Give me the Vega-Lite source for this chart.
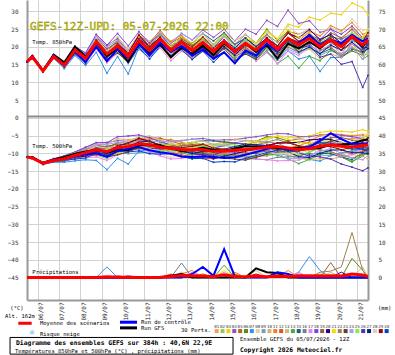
{
"$schema":"https://vega.github.io/schema/vega-lite/v6.json",
"width":341,"height":300,
"autosize":{"type":"none"},
"padding":{"left":27,"top":0,"right":27,"bottom":55},
"background":"#ffffff",
"config":{"view":{"stroke":null},"text":{"font":"DejaVu Sans Mono"},"axis":{"labelFont":"DejaVu Sans Mono"}},
"datasets":{
"sw":[{"m":1},{"m":2},{"m":3},{"m":4},{"m":5},{"m":6},{"m":7},{"m":8},{"m":9},{"m":10},{"m":11},{"m":12},{"m":13},{"m":14},{"m":15},{"m":16},{"m":17},{"m":18},{"m":19},{"m":20},{"m":21},{"m":22},{"m":23},{"m":24},{"m":25},{"m":26},{"m":27},{"m":28},{"m":29},{"m":30}],
"sp":[
{"k":"avg","t":0,"a":15.8,"b":-11.0,"r":0},{"k":"avg","t":6,"a":17.2,"b":-11.3,"r":0},{"k":"avg","t":18,"a":13.2,"b":-12.8,"r":0},{"k":"avg","t":30,"a":17.3,"b":-12.0,"r":0},{"k":"avg","t":42,"a":14.9,"b":-11.5,"r":0},{"k":"avg","t":54,"a":19.1,"b":-10.6,"r":0},{"k":"avg","t":66,"a":16.8,"b":-9.8,"r":0},{"k":"avg","t":78,"a":21.5,"b":-9.0,"r":0},{"k":"avg","t":90,"a":18.0,"b":-9.5,"r":0.2},{"k":"avg","t":102,"a":20.3,"b":-8.4,"r":0.1},{"k":"avg","t":114,"a":17.3,"b":-8.1,"r":0.1},{"k":"avg","t":126,"a":21.8,"b":-7.3,"r":0},{"k":"avg","t":138,"a":19.1,"b":-7.6,"r":0},{"k":"avg","t":150,"a":22.2,"b":-8.2,"r":0.1},{"k":"avg","t":162,"a":19.1,"b":-8.6,"r":0.3},{"k":"avg","t":174,"a":21.3,"b":-8.9,"r":0.6},{"k":"avg","t":186,"a":19.0,"b":-9.0,"r":0.5},{"k":"avg","t":198,"a":21.3,"b":-8.9,"r":0.4},{"k":"avg","t":210,"a":18.7,"b":-9.5,"r":0.2},{"k":"avg","t":222,"a":21.5,"b":-9.3,"r":0.8},{"k":"avg","t":234,"a":18.7,"b":-9.1,"r":0.3},{"k":"avg","t":246,"a":21.0,"b":-8.9,"r":0.2},{"k":"avg","t":258,"a":19.1,"b":-8.6,"r":0.4},{"k":"avg","t":270,"a":22.0,"b":-8.3,"r":0.2},{"k":"avg","t":282,"a":19.3,"b":-8.1,"r":0.4},{"k":"avg","t":294,"a":22.4,"b":-8.5,"r":0.3},{"k":"avg","t":306,"a":20.6,"b":-8.9,"r":0.4},{"k":"avg","t":318,"a":22.4,"b":-8.7,"r":0.5},{"k":"avg","t":330,"a":20.1,"b":-8.0,"r":0.4},{"k":"avg","t":342,"a":22.0,"b":-7.6,"r":0.5},{"k":"avg","t":354,"a":20.1,"b":-8.0,"r":0.4},{"k":"avg","t":366,"a":22.9,"b":-8.3,"r":1.0},{"k":"avg","t":378,"a":20.6,"b":-7.8,"r":0.7},{"k":"avg","t":384,"a":22.0,"b":-7.6,"r":0.3},
{"k":"ctl","t":0,"a":15.8,"b":-11.0,"r":0},{"k":"ctl","t":6,"a":17.4,"b":-11.1,"r":0},{"k":"ctl","t":18,"a":13.2,"b":-12.8,"r":0},{"k":"ctl","t":30,"a":17.6,"b":-11.8,"r":0},{"k":"ctl","t":42,"a":14.9,"b":-11.5,"r":0},{"k":"ctl","t":54,"a":18.6,"b":-10.9,"r":0},{"k":"ctl","t":66,"a":15.8,"b":-10.3,"r":0},{"k":"ctl","t":78,"a":20.0,"b":-10.0,"r":0},{"k":"ctl","t":90,"a":16.0,"b":-11.0,"r":0},{"k":"ctl","t":102,"a":19.3,"b":-9.4,"r":0},{"k":"ctl","t":114,"a":16.8,"b":-8.6,"r":0},{"k":"ctl","t":126,"a":20.8,"b":-8.3,"r":0},{"k":"ctl","t":138,"a":17.6,"b":-9.1,"r":0},{"k":"ctl","t":150,"a":21.2,"b":-9.7,"r":0},{"k":"ctl","t":162,"a":18.6,"b":-10.1,"r":0},{"k":"ctl","t":174,"a":20.3,"b":-10.9,"r":0},{"k":"ctl","t":186,"a":17.5,"b":-11.0,"r":1},{"k":"ctl","t":198,"a":19.3,"b":-10.9,"r":3},{"k":"ctl","t":210,"a":16.7,"b":-11.0,"r":0.5},{"k":"ctl","t":222,"a":18.5,"b":-11.3,"r":8},{"k":"ctl","t":234,"a":15.4,"b":-11.1,"r":0.3},{"k":"ctl","t":246,"a":19.0,"b":-10.4,"r":0},{"k":"ctl","t":258,"a":17.6,"b":-9.6,"r":0},{"k":"ctl","t":270,"a":21.0,"b":-8.8,"r":0},{"k":"ctl","t":282,"a":18.8,"b":-8.1,"r":1.5},{"k":"ctl","t":294,"a":22.4,"b":-9.0,"r":1},{"k":"ctl","t":306,"a":21.1,"b":-8.9,"r":0},{"k":"ctl","t":318,"a":23.4,"b":-8.2,"r":0},{"k":"ctl","t":330,"a":20.6,"b":-6.5,"r":0},{"k":"ctl","t":342,"a":22.0,"b":-4.3,"r":0},{"k":"ctl","t":354,"a":21.1,"b":-6.0,"r":0},{"k":"ctl","t":366,"a":23.4,"b":-7.3,"r":0},{"k":"ctl","t":378,"a":21.6,"b":-7.3,"r":0},{"k":"ctl","t":384,"a":22.5,"b":-7.1,"r":0},
{"k":"gfs","t":0,"a":15.8,"b":-11.0,"r":0},{"k":"gfs","t":6,"a":17.5,"b":-11.1,"r":0},{"k":"gfs","t":18,"a":13.4,"b":-12.7,"r":0},{"k":"gfs","t":30,"a":17.8,"b":-11.7,"r":0},{"k":"gfs","t":42,"a":15.7,"b":-11.0,"r":0},{"k":"gfs","t":54,"a":20.1,"b":-10.1,"r":0},{"k":"gfs","t":66,"a":17.3,"b":-9.5,"r":0},{"k":"gfs","t":78,"a":21.5,"b":-9.0,"r":0},{"k":"gfs","t":90,"a":17.5,"b":-9.8,"r":0},{"k":"gfs","t":102,"a":19.3,"b":-8.9,"r":0},{"k":"gfs","t":114,"a":15.8,"b":-9.1,"r":0},{"k":"gfs","t":126,"a":20.8,"b":-7.8,"r":0},{"k":"gfs","t":138,"a":18.1,"b":-7.6,"r":0},{"k":"gfs","t":150,"a":20.7,"b":-7.7,"r":0},{"k":"gfs","t":162,"a":17.1,"b":-8.6,"r":0.5},{"k":"gfs","t":174,"a":19.8,"b":-9.4,"r":1.0},{"k":"gfs","t":186,"a":18.0,"b":-9.0,"r":0},{"k":"gfs","t":198,"a":20.3,"b":-8.4,"r":0},{"k":"gfs","t":210,"a":17.7,"b":-9.0,"r":0},{"k":"gfs","t":222,"a":21.0,"b":-9.3,"r":0},{"k":"gfs","t":234,"a":18.7,"b":-8.6,"r":0},{"k":"gfs","t":246,"a":21.0,"b":-7.9,"r":0},{"k":"gfs","t":258,"a":18.6,"b":-8.1,"r":2.6},{"k":"gfs","t":270,"a":20.5,"b":-8.3,"r":1.5},{"k":"gfs","t":282,"a":16.8,"b":-8.6,"r":1.3},{"k":"gfs","t":294,"a":20.9,"b":-8.5,"r":0},{"k":"gfs","t":306,"a":19.6,"b":-8.4,"r":0},{"k":"gfs","t":318,"a":21.4,"b":-8.7,"r":0},{"k":"gfs","t":330,"a":19.6,"b":-8.5,"r":0},{"k":"gfs","t":342,"a":22.0,"b":-7.6,"r":0},{"k":"gfs","t":354,"a":20.6,"b":-7.5,"r":0},{"k":"gfs","t":366,"a":22.9,"b":-7.3,"r":0},{"k":"gfs","t":378,"a":20.1,"b":-6.3,"r":0},{"k":"gfs","t":384,"a":22.0,"b":-6.1,"r":0}
],
"pr":[
{"m":1,"t":0,"r":0},{"m":1,"t":222,"r":0},{"m":1,"t":234,"r":0.8},{"m":1,"t":246,"r":0},{"m":1,"t":378,"r":0},{"m":1,"t":384,"r":0.5},
{"m":4,"t":0,"r":0},{"m":4,"t":90,"r":0},{"m":4,"t":102,"r":0.5},{"m":4,"t":114,"r":0},{"m":4,"t":384,"r":0},
{"m":5,"t":0,"r":0},{"m":5,"t":150,"r":0},{"m":5,"t":162,"r":1},{"m":5,"t":174,"r":0},{"m":5,"t":186,"r":0},{"m":5,"t":198,"r":1},{"m":5,"t":210,"r":0},{"m":5,"t":222,"r":0},{"m":5,"t":234,"r":1},{"m":5,"t":246,"r":0},{"m":5,"t":384,"r":0},
{"m":6,"t":0,"r":0},{"m":6,"t":354,"r":0},{"m":6,"t":366,"r":5.4},{"m":6,"t":378,"r":2},{"m":6,"t":384,"r":0},
{"m":7,"t":0,"r":0},{"m":7,"t":78,"r":0},{"m":7,"t":90,"r":3},{"m":7,"t":102,"r":0},{"m":7,"t":270,"r":0},{"m":7,"t":282,"r":1},{"m":7,"t":294,"r":0},{"m":7,"t":306,"r":1.5},{"m":7,"t":318,"r":5.9},{"m":7,"t":330,"r":2},{"m":7,"t":342,"r":0},{"m":7,"t":384,"r":0},
{"m":10,"t":0,"r":0},{"m":10,"t":162,"r":0},{"m":10,"t":174,"r":1.5},{"m":10,"t":186,"r":0},{"m":10,"t":246,"r":0},{"m":10,"t":258,"r":2},{"m":10,"t":270,"r":0},{"m":10,"t":384,"r":0},
{"m":11,"t":0,"r":0},{"m":11,"t":162,"r":0},{"m":11,"t":174,"r":1},{"m":11,"t":186,"r":2},{"m":11,"t":198,"r":0},{"m":11,"t":222,"r":0},{"m":11,"t":234,"r":1.5},{"m":11,"t":246,"r":0},{"m":11,"t":282,"r":0},{"m":11,"t":294,"r":2},{"m":11,"t":306,"r":0},{"m":11,"t":318,"r":0},{"m":11,"t":330,"r":1},{"m":11,"t":342,"r":0},{"m":11,"t":384,"r":0},
{"m":12,"t":0,"r":0},{"m":12,"t":150,"r":0},{"m":12,"t":162,"r":0.8},{"m":12,"t":174,"r":0},{"m":12,"t":384,"r":0},
{"m":13,"t":0,"r":0},{"m":13,"t":330,"r":0},{"m":13,"t":342,"r":1.5},{"m":13,"t":354,"r":0},{"m":13,"t":366,"r":0},{"m":13,"t":378,"r":3},{"m":13,"t":384,"r":0},
{"m":14,"t":0,"r":0},{"m":14,"t":210,"r":0},{"m":14,"t":222,"r":3.5},{"m":14,"t":234,"r":0},{"m":14,"t":270,"r":0},{"m":14,"t":282,"r":1.2},{"m":14,"t":294,"r":0},{"m":14,"t":384,"r":0},
{"m":16,"t":0,"r":0},{"m":16,"t":162,"r":0},{"m":16,"t":174,"r":4.1},{"m":16,"t":186,"r":0},{"m":16,"t":384,"r":0},
{"m":17,"t":0,"r":0},{"m":17,"t":90,"r":0},{"m":17,"t":102,"r":0.5},{"m":17,"t":114,"r":0},{"m":17,"t":174,"r":0},{"m":17,"t":186,"r":1.5},{"m":17,"t":198,"r":0},{"m":17,"t":210,"r":0},{"m":17,"t":222,"r":1.5},{"m":17,"t":234,"r":0},{"m":17,"t":294,"r":0},{"m":17,"t":306,"r":1.5},{"m":17,"t":318,"r":0},{"m":17,"t":384,"r":0},
{"m":18,"t":0,"r":0},{"m":18,"t":102,"r":0},{"m":18,"t":114,"r":0.5},{"m":18,"t":126,"r":0},{"m":18,"t":384,"r":0},
{"m":19,"t":0,"r":0},{"m":19,"t":294,"r":0},{"m":19,"t":306,"r":1},{"m":19,"t":318,"r":0},{"m":19,"t":330,"r":0},{"m":19,"t":342,"r":4.2},{"m":19,"t":354,"r":0},{"m":19,"t":384,"r":0},
{"m":20,"t":0,"r":0},{"m":20,"t":342,"r":0},{"m":20,"t":354,"r":1.5},{"m":20,"t":366,"r":0},{"m":20,"t":384,"r":0},
{"m":21,"t":0,"r":0},{"m":21,"t":210,"r":0},{"m":21,"t":222,"r":2},{"m":21,"t":234,"r":0},{"m":21,"t":384,"r":0},
{"m":22,"t":0,"r":0},{"m":22,"t":318,"r":0},{"m":22,"t":330,"r":1.5},{"m":22,"t":342,"r":1.8},{"m":22,"t":354,"r":3},{"m":22,"t":366,"r":12.7},{"m":22,"t":378,"r":2},{"m":22,"t":384,"r":0},
{"m":24,"t":0,"r":0},{"m":24,"t":162,"r":0},{"m":24,"t":174,"r":1},{"m":24,"t":186,"r":0},{"m":24,"t":384,"r":0},
{"m":29,"t":0,"r":0},{"m":29,"t":246,"r":0},{"m":29,"t":258,"r":1},{"m":29,"t":270,"r":0},{"m":29,"t":384,"r":0},
{"m":30,"t":0,"r":0},{"m":30,"t":270,"r":0},{"m":30,"t":282,"r":1.5},{"m":30,"t":294,"r":0},{"m":30,"t":384,"r":0}
],
"ens":[
{"m":1,"t":0,"a":15.8,"b":-11.0},{"m":1,"t":6,"a":17.4,"b":-11.1},{"m":1,"t":18,"a":12.9,"b":-13.1},{"m":1,"t":30,"a":17.6,"b":-11.7},{"m":1,"t":42,"a":15.4,"b":-11.0},{"m":1,"t":54,"a":19.6,"b":-10.1},{"m":1,"t":66,"a":17.8,"b":-8.8},{"m":1,"t":78,"a":22.5,"b":-8.0},{"m":1,"t":90,"a":19.5,"b":-8.0},{"m":1,"t":102,"a":21.3,"b":-7.4},{"m":1,"t":114,"a":17.8,"b":-7.6},{"m":1,"t":126,"a":21.8,"b":-7.3},{"m":1,"t":138,"a":18.6,"b":-8.1},{"m":1,"t":150,"a":21.2,"b":-9.2},{"m":1,"t":162,"a":17.6,"b":-10.1},{"m":1,"t":174,"a":20.3,"b":-9.9},{"m":1,"t":186,"a":19.0,"b":-9.0},{"m":1,"t":198,"a":22.3,"b":-7.9},{"m":1,"t":210,"a":20.2,"b":-8.0},{"m":1,"t":222,"a":23.5,"b":-7.3},{"m":1,"t":234,"a":20.7,"b":-7.1},{"m":1,"t":246,"a":22.5,"b":-7.4},{"m":1,"t":258,"a":20.1,"b":-7.6},{"m":1,"t":270,"a":22.0,"b":-8.3},{"m":1,"t":282,"a":18.3,"b":-9.1},{"m":1,"t":294,"a":20.9,"b":-10.0},{"m":1,"t":306,"a":18.6,"b":-10.9},{"m":1,"t":318,"a":21.4,"b":-9.7},{"m":1,"t":330,"a":20.1,"b":-8.0},{"m":1,"t":342,"a":23.0,"b":-6.6},{"m":1,"t":354,"a":22.1,"b":-6.0},{"m":1,"t":366,"a":25.4,"b":-5.8},{"m":1,"t":378,"a":22.6,"b":-5.8},{"m":1,"t":384,"a":23.5,"b":-6.1},
{"m":2,"t":0,"a":15.8,"b":-11.0},{"m":2,"t":6,"a":17.0,"b":-11.5},{"m":2,"t":18,"a":13.5,"b":-12.5},{"m":2,"t":30,"a":17.0,"b":-12.3},{"m":2,"t":42,"a":14.4,"b":-12.0},{"m":2,"t":54,"a":18.1,"b":-11.6},{"m":2,"t":66,"a":15.8,"b":-10.8},{"m":2,"t":78,"a":20.0,"b":-10.5},{"m":2,"t":90,"a":16.0,"b":-11.5},{"m":2,"t":102,"a":18.8,"b":-9.9},{"m":2,"t":114,"a":16.3,"b":-9.1},{"m":2,"t":126,"a":21.8,"b":-7.3},{"m":2,"t":138,"a":19.6,"b":-7.1},{"m":2,"t":150,"a":23.2,"b":-7.2},{"m":2,"t":162,"a":20.1,"b":-7.6},{"m":2,"t":174,"a":22.8,"b":-7.4},{"m":2,"t":186,"a":21.0,"b":-7.0},{"m":2,"t":198,"a":22.8,"b":-7.4},{"m":2,"t":210,"a":19.7,"b":-8.5},{"m":2,"t":222,"a":21.5,"b":-9.3},{"m":2,"t":234,"a":17.7,"b":-10.1},{"m":2,"t":246,"a":19.5,"b":-10.4},{"m":2,"t":258,"a":17.1,"b":-10.6},{"m":2,"t":270,"a":19.5,"b":-10.8},{"m":2,"t":282,"a":17.3,"b":-10.1},{"m":2,"t":294,"a":21.4,"b":-9.5},{"m":2,"t":306,"a":20.6,"b":-8.9},{"m":2,"t":318,"a":23.4,"b":-7.7},{"m":2,"t":330,"a":21.6,"b":-6.5},{"m":2,"t":342,"a":23.0,"b":-6.6},{"m":2,"t":354,"a":20.1,"b":-8.0},{"m":2,"t":366,"a":21.9,"b":-9.3},{"m":2,"t":378,"a":18.6,"b":-9.8},{"m":2,"t":384,"a":20.5,"b":-9.1},
{"m":3,"t":0,"a":15.8,"b":-11.0},{"m":3,"t":6,"a":17.5,"b":-11.0},{"m":3,"t":18,"a":13.4,"b":-12.6},{"m":3,"t":30,"a":17.3,"b":-12.0},{"m":3,"t":42,"a":15.2,"b":-11.2},{"m":3,"t":54,"a":19.1,"b":-10.6},{"m":3,"t":66,"a":16.3,"b":-10.3},{"m":3,"t":78,"a":20.5,"b":-10.0},{"m":3,"t":90,"a":17.5,"b":-10.0},{"m":3,"t":102,"a":20.3,"b":-8.4},{"m":3,"t":114,"a":17.8,"b":-7.6},{"m":3,"t":126,"a":22.8,"b":-6.3},{"m":3,"t":138,"a":20.1,"b":-6.6},{"m":3,"t":150,"a":22.7,"b":-7.7},{"m":3,"t":162,"a":19.1,"b":-8.6},{"m":3,"t":174,"a":21.8,"b":-8.4},{"m":3,"t":186,"a":20.0,"b":-8.0},{"m":3,"t":198,"a":22.8,"b":-7.4},{"m":3,"t":210,"a":20.7,"b":-7.5},{"m":3,"t":222,"a":24.0,"b":-6.8},{"m":3,"t":234,"a":20.7,"b":-7.1},{"m":3,"t":246,"a":22.5,"b":-7.4},{"m":3,"t":258,"a":21.1,"b":-6.6},{"m":3,"t":270,"a":24.5,"b":-5.8},{"m":3,"t":282,"a":22.3,"b":-5.1},{"m":3,"t":294,"a":26.4,"b":-5.3},{"m":3,"t":306,"a":25.6,"b":-5.5},{"m":3,"t":318,"a":28.4,"b":-5.1},{"m":3,"t":330,"a":27.6,"b":-4.1},{"m":3,"t":342,"a":29.5,"b":-3.7},{"m":3,"t":354,"a":29.1,"b":-3.8},{"m":3,"t":366,"a":32.4,"b":-4.0},{"m":3,"t":378,"a":31.1,"b":-3.3},{"m":3,"t":384,"a":29.0,"b":-3.8},
{"m":4,"t":0,"a":15.8,"b":-11.0},{"m":4,"t":6,"a":17.0,"b":-11.5},{"m":4,"t":18,"a":13.4,"b":-12.6},{"m":4,"t":30,"a":17.6,"b":-11.7},{"m":4,"t":42,"a":15.4,"b":-11.0},{"m":4,"t":54,"a":20.1,"b":-9.6},{"m":4,"t":66,"a":18.3,"b":-8.3},{"m":4,"t":78,"a":23.5,"b":-7.0},{"m":4,"t":90,"a":20.5,"b":-7.0},{"m":4,"t":102,"a":22.3,"b":-6.4},{"m":4,"t":114,"a":18.8,"b":-6.6},{"m":4,"t":126,"a":22.8,"b":-6.3},{"m":4,"t":138,"a":20.1,"b":-6.6},{"m":4,"t":150,"a":23.7,"b":-6.7},{"m":4,"t":162,"a":21.1,"b":-6.6},{"m":4,"t":174,"a":23.8,"b":-6.4},{"m":4,"t":186,"a":22.0,"b":-6.0},{"m":4,"t":198,"a":24.8,"b":-5.8},{"m":4,"t":210,"a":22.7,"b":-6.3},{"m":4,"t":222,"a":25.0,"b":-6.2},{"m":4,"t":234,"a":21.7,"b":-6.1},{"m":4,"t":246,"a":25.0,"b":-5.7},{"m":4,"t":258,"a":23.6,"b":-5.3},{"m":4,"t":270,"a":27.5,"b":-4.8},{"m":4,"t":282,"a":25.8,"b":-4.4},{"m":4,"t":294,"a":30.4,"b":-4.5},{"m":4,"t":306,"a":26.6,"b":-5.3},{"m":4,"t":318,"a":27.4,"b":-5.3},{"m":4,"t":330,"a":24.1,"b":-4.8},{"m":4,"t":342,"a":25.0,"b":-4.6},{"m":4,"t":354,"a":22.1,"b":-6.0},{"m":4,"t":366,"a":23.9,"b":-7.3},{"m":4,"t":378,"a":20.6,"b":-7.8},{"m":4,"t":384,"a":21.0,"b":-8.6},
{"m":5,"t":0,"a":15.8,"b":-11.0},{"m":5,"t":6,"a":17.3,"b":-11.2},{"m":5,"t":18,"a":13.4,"b":-12.6},{"m":5,"t":30,"a":17.3,"b":-12.0},{"m":5,"t":42,"a":15.4,"b":-11.0},{"m":5,"t":54,"a":19.9,"b":-9.8},{"m":5,"t":66,"a":17.8,"b":-8.8},{"m":5,"t":78,"a":23.0,"b":-7.5},{"m":5,"t":90,"a":19.0,"b":-8.5},{"m":5,"t":102,"a":20.8,"b":-7.9},{"m":5,"t":114,"a":18.3,"b":-7.1},{"m":5,"t":126,"a":23.3,"b":-5.8},{"m":5,"t":138,"a":21.1,"b":-5.6},{"m":5,"t":150,"a":24.7,"b":-5.7},{"m":5,"t":162,"a":21.1,"b":-6.6},{"m":5,"t":174,"a":22.8,"b":-7.4},{"m":5,"t":186,"a":20.0,"b":-8.0},{"m":5,"t":198,"a":21.8,"b":-8.4},{"m":5,"t":210,"a":18.7,"b":-9.5},{"m":5,"t":222,"a":21.0,"b":-9.8},{"m":5,"t":234,"a":17.7,"b":-10.1},{"m":5,"t":246,"a":19.5,"b":-10.4},{"m":5,"t":258,"a":18.1,"b":-9.6},{"m":5,"t":270,"a":22.0,"b":-8.3},{"m":5,"t":282,"a":20.3,"b":-7.1},{"m":5,"t":294,"a":24.4,"b":-6.5},{"m":5,"t":306,"a":23.6,"b":-5.9},{"m":5,"t":318,"a":24.9,"b":-6.2},{"m":5,"t":330,"a":22.1,"b":-6.0},{"m":5,"t":342,"a":23.5,"b":-6.1},{"m":5,"t":354,"a":21.1,"b":-7.0},{"m":5,"t":366,"a":23.4,"b":-7.8},{"m":5,"t":378,"a":20.6,"b":-7.8},{"m":5,"t":384,"a":21.5,"b":-8.1},
{"m":6,"t":0,"a":15.8,"b":-11.0},{"m":6,"t":6,"a":17.1,"b":-11.4},{"m":6,"t":18,"a":13.0,"b":-13.0},{"m":6,"t":30,"a":17.0,"b":-12.3},{"m":6,"t":42,"a":14.1,"b":-12.3},{"m":6,"t":54,"a":18.6,"b":-11.1},{"m":6,"t":66,"a":16.8,"b":-9.8},{"m":6,"t":78,"a":22.0,"b":-8.5},{"m":6,"t":90,"a":19.0,"b":-8.5},{"m":6,"t":102,"a":21.8,"b":-6.9},{"m":6,"t":114,"a":18.3,"b":-7.1},{"m":6,"t":126,"a":22.3,"b":-6.8},{"m":6,"t":138,"a":19.1,"b":-7.6},{"m":6,"t":150,"a":21.7,"b":-8.7},{"m":6,"t":162,"a":18.1,"b":-9.6},{"m":6,"t":174,"a":19.3,"b":-10.9},{"m":6,"t":186,"a":16.5,"b":-11.5},{"m":6,"t":198,"a":19.3,"b":-10.9},{"m":6,"t":210,"a":17.2,"b":-11.0},{"m":6,"t":222,"a":20.5,"b":-10.3},{"m":6,"t":234,"a":18.7,"b":-9.1},{"m":6,"t":246,"a":22.0,"b":-7.9},{"m":6,"t":258,"a":21.1,"b":-6.6},{"m":6,"t":270,"a":25.0,"b":-5.3},{"m":6,"t":282,"a":21.8,"b":-5.6},{"m":6,"t":294,"a":24.4,"b":-6.5},{"m":6,"t":306,"a":21.6,"b":-7.9},{"m":6,"t":318,"a":22.4,"b":-8.7},{"m":6,"t":330,"a":19.1,"b":-9.0},{"m":6,"t":342,"a":20.0,"b":-9.6},{"m":6,"t":354,"a":17.1,"b":-11.0},{"m":6,"t":366,"a":18.9,"b":-12.3},{"m":6,"t":378,"a":17.6,"b":-10.8},{"m":6,"t":384,"a":20.0,"b":-9.6},
{"m":7,"t":0,"a":15.8,"b":-11.0},{"m":7,"t":6,"a":17.0,"b":-11.5},{"m":7,"t":18,"a":12.9,"b":-13.1},{"m":7,"t":30,"a":16.8,"b":-12.5},{"m":7,"t":42,"a":13.9,"b":-12.5},{"m":7,"t":54,"a":17.6,"b":-12.1},{"m":7,"t":66,"a":14.8,"b":-11.8},{"m":7,"t":78,"a":18.5,"b":-12.0},{"m":7,"t":90,"a":12.6,"b":-14.6},{"m":7,"t":102,"a":17.3,"b":-11.4},{"m":7,"t":114,"a":12.4,"b":-13.0},{"m":7,"t":126,"a":19.8,"b":-9.3},{"m":7,"t":138,"a":17.6,"b":-9.1},{"m":7,"t":150,"a":21.2,"b":-9.2},{"m":7,"t":162,"a":18.6,"b":-9.1},{"m":7,"t":174,"a":21.3,"b":-8.9},{"m":7,"t":186,"a":18.5,"b":-9.5},{"m":7,"t":198,"a":20.3,"b":-9.9},{"m":7,"t":210,"a":17.2,"b":-11.0},{"m":7,"t":222,"a":20.5,"b":-10.3},{"m":7,"t":234,"a":18.2,"b":-9.6},{"m":7,"t":246,"a":21.0,"b":-8.9},{"m":7,"t":258,"a":18.1,"b":-9.2},{"m":7,"t":270,"a":20.0,"b":-9.5},{"m":7,"t":282,"a":16.3,"b":-9.9},{"m":7,"t":294,"a":18.9,"b":-10.6},{"m":7,"t":306,"a":16.6,"b":-11.3},{"m":7,"t":318,"a":17.4,"b":-11.7},{"m":7,"t":330,"a":13.1,"b":-12.2},{"m":7,"t":342,"a":17.0,"b":-10.6},{"m":7,"t":354,"a":17.1,"b":-9.8},{"m":7,"t":366,"a":20.9,"b":-9.5},{"m":7,"t":378,"a":19.1,"b":-8.7},{"m":7,"t":384,"a":21.0,"b":-8.2},
{"m":8,"t":0,"a":15.8,"b":-11.0},{"m":8,"t":6,"a":17.4,"b":-11.1},{"m":8,"t":18,"a":13.3,"b":-12.7},{"m":8,"t":30,"a":17.1,"b":-12.2},{"m":8,"t":42,"a":14.9,"b":-11.5},{"m":8,"t":54,"a":19.4,"b":-10.3},{"m":8,"t":66,"a":17.3,"b":-9.3},{"m":8,"t":78,"a":22.5,"b":-8.0},{"m":8,"t":90,"a":18.5,"b":-9.0},{"m":8,"t":102,"a":20.3,"b":-8.4},{"m":8,"t":114,"a":16.8,"b":-8.6},{"m":8,"t":126,"a":20.8,"b":-8.3},{"m":8,"t":138,"a":17.6,"b":-9.1},{"m":8,"t":150,"a":20.2,"b":-10.2},{"m":8,"t":162,"a":16.6,"b":-11.1},{"m":8,"t":174,"a":19.3,"b":-10.9},{"m":8,"t":186,"a":17.5,"b":-10.5},{"m":8,"t":198,"a":20.3,"b":-9.9},{"m":8,"t":210,"a":18.2,"b":-10.0},{"m":8,"t":222,"a":21.5,"b":-9.3},{"m":8,"t":234,"a":19.2,"b":-8.6},{"m":8,"t":246,"a":22.0,"b":-7.9},{"m":8,"t":258,"a":20.6,"b":-7.1},{"m":8,"t":270,"a":24.0,"b":-6.3},{"m":8,"t":282,"a":22.3,"b":-5.1},{"m":8,"t":294,"a":25.9,"b":-5.4},{"m":8,"t":306,"a":23.6,"b":-5.9},{"m":8,"t":318,"a":24.9,"b":-6.2},{"m":8,"t":330,"a":23.1,"b":-5.0},{"m":8,"t":342,"a":25.5,"b":-4.5},{"m":8,"t":354,"a":24.1,"b":-4.8},{"m":8,"t":366,"a":27.9,"b":-4.9},{"m":8,"t":378,"a":24.6,"b":-4.6},{"m":8,"t":384,"a":25.0,"b":-4.6},
{"m":9,"t":0,"a":15.8,"b":-11.0},{"m":9,"t":6,"a":17.2,"b":-11.3},{"m":9,"t":18,"a":13.5,"b":-12.5},{"m":9,"t":30,"a":17.5,"b":-11.8},{"m":9,"t":42,"a":15.4,"b":-11.0},{"m":9,"t":54,"a":19.4,"b":-10.3},{"m":9,"t":66,"a":16.5,"b":-10.1},{"m":9,"t":78,"a":21.0,"b":-9.5},{"m":9,"t":90,"a":17.0,"b":-10.5},{"m":9,"t":102,"a":18.8,"b":-9.9},{"m":9,"t":114,"a":15.3,"b":-10.1},{"m":9,"t":126,"a":19.3,"b":-9.8},{"m":9,"t":138,"a":17.1,"b":-9.6},{"m":9,"t":150,"a":20.7,"b":-9.7},{"m":9,"t":162,"a":18.1,"b":-9.6},{"m":9,"t":174,"a":20.8,"b":-9.4},{"m":9,"t":186,"a":19.0,"b":-9.0},{"m":9,"t":198,"a":21.8,"b":-8.4},{"m":9,"t":210,"a":19.7,"b":-8.5},{"m":9,"t":222,"a":23.0,"b":-7.8},{"m":9,"t":234,"a":20.7,"b":-7.1},{"m":9,"t":246,"a":23.5,"b":-6.4},{"m":9,"t":258,"a":21.1,"b":-6.6},{"m":9,"t":270,"a":23.5,"b":-6.8},{"m":9,"t":282,"a":20.3,"b":-7.1},{"m":9,"t":294,"a":22.4,"b":-8.5},{"m":9,"t":306,"a":19.6,"b":-9.9},{"m":9,"t":318,"a":20.4,"b":-10.7},{"m":9,"t":330,"a":17.6,"b":-10.5},{"m":9,"t":342,"a":19.0,"b":-10.6},{"m":9,"t":354,"a":18.1,"b":-10.0},{"m":9,"t":366,"a":21.9,"b":-9.3},{"m":9,"t":378,"a":20.6,"b":-7.8},{"m":9,"t":384,"a":23.0,"b":-6.6},
{"m":10,"t":0,"a":15.8,"b":-11.0},{"m":10,"t":6,"a":17.0,"b":-11.5},{"m":10,"t":18,"a":13.2,"b":-12.8},{"m":10,"t":30,"a":17.5,"b":-11.8},{"m":10,"t":42,"a":15.2,"b":-11.2},{"m":10,"t":54,"a":19.9,"b":-9.8},{"m":10,"t":66,"a":17.8,"b":-8.8},{"m":10,"t":78,"a":23.0,"b":-7.5},{"m":10,"t":90,"a":20.0,"b":-7.5},{"m":10,"t":102,"a":22.8,"b":-5.9},{"m":10,"t":114,"a":19.3,"b":-6.1},{"m":10,"t":126,"a":23.3,"b":-5.8},{"m":10,"t":138,"a":20.1,"b":-6.6},{"m":10,"t":150,"a":22.7,"b":-7.7},{"m":10,"t":162,"a":19.1,"b":-8.6},{"m":10,"t":174,"a":21.8,"b":-8.4},{"m":10,"t":186,"a":20.0,"b":-8.0},{"m":10,"t":198,"a":22.8,"b":-7.4},{"m":10,"t":210,"a":20.7,"b":-7.5},{"m":10,"t":222,"a":24.0,"b":-6.8},{"m":10,"t":234,"a":21.7,"b":-6.1},{"m":10,"t":246,"a":23.5,"b":-6.4},{"m":10,"t":258,"a":21.1,"b":-6.6},{"m":10,"t":270,"a":23.0,"b":-7.3},{"m":10,"t":282,"a":19.3,"b":-8.1},{"m":10,"t":294,"a":21.4,"b":-9.5},{"m":10,"t":306,"a":18.6,"b":-10.9},{"m":10,"t":318,"a":19.4,"b":-11.7},{"m":10,"t":330,"a":16.6,"b":-11.5},{"m":10,"t":342,"a":18.0,"b":-11.6},{"m":10,"t":354,"a":17.1,"b":-11.0},{"m":10,"t":366,"a":20.9,"b":-10.3},{"m":10,"t":378,"a":17.6,"b":-10.8},{"m":10,"t":384,"a":18.0,"b":-11.6},
{"m":11,"t":0,"a":15.8,"b":-11.0},{"m":11,"t":6,"a":17.5,"b":-11.0},{"m":11,"t":18,"a":13.5,"b":-12.5},{"m":11,"t":30,"a":17.8,"b":-11.5},{"m":11,"t":42,"a":15.1,"b":-11.3},{"m":11,"t":54,"a":18.8,"b":-10.9},{"m":11,"t":66,"a":16.0,"b":-10.6},{"m":11,"t":78,"a":20.5,"b":-10.0},{"m":11,"t":90,"a":17.5,"b":-10.0},{"m":11,"t":102,"a":20.3,"b":-8.4},{"m":11,"t":114,"a":17.8,"b":-7.6},{"m":11,"t":126,"a":22.8,"b":-6.3},{"m":11,"t":138,"a":20.6,"b":-6.1},{"m":11,"t":150,"a":24.2,"b":-6.2},{"m":11,"t":162,"a":21.6,"b":-6.1},{"m":11,"t":174,"a":23.3,"b":-6.9},{"m":11,"t":186,"a":20.5,"b":-7.5},{"m":11,"t":198,"a":22.3,"b":-7.9},{"m":11,"t":210,"a":19.2,"b":-9.0},{"m":11,"t":222,"a":21.0,"b":-9.8},{"m":11,"t":234,"a":17.2,"b":-10.6},{"m":11,"t":246,"a":19.0,"b":-10.9},{"m":11,"t":258,"a":16.6,"b":-11.1},{"m":11,"t":270,"a":20.0,"b":-10.3},{"m":11,"t":282,"a":18.3,"b":-9.1},{"m":11,"t":294,"a":22.4,"b":-8.5},{"m":11,"t":306,"a":21.6,"b":-7.9},{"m":11,"t":318,"a":24.4,"b":-6.7},{"m":11,"t":330,"a":23.1,"b":-5.0},{"m":11,"t":342,"a":26.0,"b":-4.4},{"m":11,"t":354,"a":24.6,"b":-4.7},{"m":11,"t":366,"a":26.9,"b":-5.1},{"m":11,"t":378,"a":23.6,"b":-4.8},{"m":11,"t":384,"a":24.0,"b":-5.6},
{"m":12,"t":0,"a":15.8,"b":-11.0},{"m":12,"t":6,"a":16.9,"b":-11.6},{"m":12,"t":18,"a":13.0,"b":-13.0},{"m":12,"t":30,"a":17.2,"b":-12.1},{"m":12,"t":42,"a":14.4,"b":-12.0},{"m":12,"t":54,"a":18.3,"b":-11.4},{"m":12,"t":66,"a":15.8,"b":-10.8},{"m":12,"t":78,"a":20.0,"b":-10.5},{"m":12,"t":90,"a":17.0,"b":-10.5},{"m":12,"t":102,"a":19.8,"b":-8.9},{"m":12,"t":114,"a":17.3,"b":-8.1},{"m":12,"t":126,"a":22.3,"b":-6.8},{"m":12,"t":138,"a":19.1,"b":-7.6},{"m":12,"t":150,"a":21.7,"b":-8.7},{"m":12,"t":162,"a":18.1,"b":-9.6},{"m":12,"t":174,"a":19.8,"b":-10.4},{"m":12,"t":186,"a":17.0,"b":-11.0},{"m":12,"t":198,"a":18.8,"b":-11.4},{"m":12,"t":210,"a":16.7,"b":-11.5},{"m":12,"t":222,"a":20.0,"b":-10.8},{"m":12,"t":234,"a":17.7,"b":-10.1},{"m":12,"t":246,"a":20.5,"b":-9.4},{"m":12,"t":258,"a":19.1,"b":-8.6},{"m":12,"t":270,"a":22.5,"b":-7.8},{"m":12,"t":282,"a":20.3,"b":-7.1},{"m":12,"t":294,"a":23.9,"b":-7.0},{"m":12,"t":306,"a":22.6,"b":-6.9},{"m":12,"t":318,"a":23.9,"b":-7.2},{"m":12,"t":330,"a":21.1,"b":-7.0},{"m":12,"t":342,"a":22.0,"b":-7.6},{"m":12,"t":354,"a":19.1,"b":-9.0},{"m":12,"t":366,"a":20.9,"b":-10.3},{"m":12,"t":378,"a":19.1,"b":-9.3},{"m":12,"t":384,"a":21.0,"b":-8.6},
{"m":13,"t":0,"a":15.8,"b":-11.0},{"m":13,"t":6,"a":17.3,"b":-11.2},{"m":13,"t":18,"a":13.1,"b":-12.9},{"m":13,"t":30,"a":17.4,"b":-11.9},{"m":13,"t":42,"a":15.2,"b":-11.2},{"m":13,"t":54,"a":19.6,"b":-10.1},{"m":13,"t":66,"a":17.1,"b":-9.5},{"m":13,"t":78,"a":21.5,"b":-9.0},{"m":13,"t":90,"a":18.5,"b":-9.0},{"m":13,"t":102,"a":21.3,"b":-7.4},{"m":13,"t":114,"a":18.8,"b":-6.6},{"m":13,"t":126,"a":23.8,"b":-5.3},{"m":13,"t":138,"a":21.6,"b":-5.1},{"m":13,"t":150,"a":24.2,"b":-6.2},{"m":13,"t":162,"a":20.6,"b":-7.1},{"m":13,"t":174,"a":22.3,"b":-7.9},{"m":13,"t":186,"a":19.5,"b":-8.5},{"m":13,"t":198,"a":21.3,"b":-8.9},{"m":13,"t":210,"a":18.2,"b":-10.0},{"m":13,"t":222,"a":20.5,"b":-10.3},{"m":13,"t":234,"a":17.2,"b":-10.6},{"m":13,"t":246,"a":20.0,"b":-9.9},{"m":13,"t":258,"a":18.6,"b":-9.1},{"m":13,"t":270,"a":21.0,"b":-9.3},{"m":13,"t":282,"a":17.8,"b":-9.6},{"m":13,"t":294,"a":20.4,"b":-10.5},{"m":13,"t":306,"a":18.1,"b":-11.4},{"m":13,"t":318,"a":19.4,"b":-11.7},{"m":13,"t":330,"a":18.1,"b":-10.0},{"m":13,"t":342,"a":21.0,"b":-8.6},{"m":13,"t":354,"a":20.1,"b":-8.0},{"m":13,"t":366,"a":23.9,"b":-7.3},{"m":13,"t":378,"a":22.6,"b":-5.8},{"m":13,"t":384,"a":25.0,"b":-4.6},
{"m":14,"t":0,"a":15.8,"b":-11.0},{"m":14,"t":6,"a":17.3,"b":-11.2},{"m":14,"t":18,"a":13.2,"b":-12.8},{"m":14,"t":30,"a":17.5,"b":-11.8},{"m":14,"t":42,"a":14.9,"b":-11.5},{"m":14,"t":54,"a":18.6,"b":-11.1},{"m":14,"t":66,"a":16.3,"b":-10.3},{"m":14,"t":78,"a":20.5,"b":-10.0},{"m":14,"t":90,"a":16.5,"b":-11.0},{"m":14,"t":102,"a":19.3,"b":-9.4},{"m":14,"t":114,"a":16.8,"b":-8.6},{"m":14,"t":126,"a":21.8,"b":-7.3},{"m":14,"t":138,"a":19.6,"b":-7.1},{"m":14,"t":150,"a":22.2,"b":-8.2},{"m":14,"t":162,"a":18.6,"b":-9.1},{"m":14,"t":174,"a":20.3,"b":-9.9},{"m":14,"t":186,"a":17.5,"b":-10.5},{"m":14,"t":198,"a":20.3,"b":-9.9},{"m":14,"t":210,"a":18.2,"b":-10.0},{"m":14,"t":222,"a":20.5,"b":-10.3},{"m":14,"t":234,"a":17.2,"b":-10.6},{"m":14,"t":246,"a":19.0,"b":-10.9},{"m":14,"t":258,"a":16.6,"b":-11.1},{"m":14,"t":270,"a":19.0,"b":-10.1},{"m":14,"t":282,"a":15.3,"b":-10.5},{"m":14,"t":294,"a":17.4,"b":-11.5},{"m":14,"t":306,"a":14.0,"b":-12.9},{"m":14,"t":318,"a":17.4,"b":-11.7},{"m":14,"t":330,"a":16.1,"b":-10.4},{"m":14,"t":342,"a":19.0,"b":-9.4},{"m":14,"t":354,"a":17.6,"b":-11.0},{"m":14,"t":366,"a":19.9,"b":-12.5},{"m":14,"t":378,"a":16.6,"b":-10.2},{"m":14,"t":384,"a":17.5,"b":-10.3},
{"m":15,"t":0,"a":15.8,"b":-11.0},{"m":15,"t":6,"a":17.2,"b":-11.3},{"m":15,"t":18,"a":12.9,"b":-13.1},{"m":15,"t":30,"a":17.1,"b":-12.2},{"m":15,"t":42,"a":14.4,"b":-12.0},{"m":15,"t":54,"a":18.8,"b":-10.9},{"m":15,"t":66,"a":17.1,"b":-9.5},{"m":15,"t":78,"a":22.0,"b":-8.5},{"m":15,"t":90,"a":18.0,"b":-9.5},{"m":15,"t":102,"a":19.8,"b":-8.9},{"m":15,"t":114,"a":16.3,"b":-9.1},{"m":15,"t":126,"a":21.3,"b":-7.8},{"m":15,"t":138,"a":19.1,"b":-7.6},{"m":15,"t":150,"a":22.7,"b":-7.7},{"m":15,"t":162,"a":20.1,"b":-7.6},{"m":15,"t":174,"a":22.8,"b":-7.4},{"m":15,"t":186,"a":21.0,"b":-7.0},{"m":15,"t":198,"a":23.8,"b":-6.4},{"m":15,"t":210,"a":21.7,"b":-6.5},{"m":15,"t":222,"a":24.0,"b":-6.8},{"m":15,"t":234,"a":20.7,"b":-7.1},{"m":15,"t":246,"a":22.5,"b":-7.4},{"m":15,"t":258,"a":20.1,"b":-7.6},{"m":15,"t":270,"a":22.5,"b":-7.8},{"m":15,"t":282,"a":19.3,"b":-8.1},{"m":15,"t":294,"a":21.9,"b":-9.0},{"m":15,"t":306,"a":19.6,"b":-9.9},{"m":15,"t":318,"a":20.9,"b":-10.2},{"m":15,"t":330,"a":18.1,"b":-10.0},{"m":15,"t":342,"a":19.5,"b":-10.1},{"m":15,"t":354,"a":17.1,"b":-11.0},{"m":15,"t":366,"a":19.4,"b":-11.8},{"m":15,"t":378,"a":18.6,"b":-9.8},{"m":15,"t":384,"a":21.0,"b":-8.6},
{"m":16,"t":0,"a":15.8,"b":-11.0},{"m":16,"t":6,"a":17.4,"b":-11.1},{"m":16,"t":18,"a":13.4,"b":-12.6},{"m":16,"t":30,"a":17.6,"b":-11.7},{"m":16,"t":42,"a":15.7,"b":-10.7},{"m":16,"t":54,"a":20.1,"b":-9.6},{"m":16,"t":66,"a":17.6,"b":-9.0},{"m":16,"t":78,"a":22.0,"b":-8.5},{"m":16,"t":90,"a":18.0,"b":-9.5},{"m":16,"t":102,"a":19.8,"b":-8.9},{"m":16,"t":114,"a":17.3,"b":-8.1},{"m":16,"t":126,"a":22.3,"b":-6.8},{"m":16,"t":138,"a":20.1,"b":-6.6},{"m":16,"t":150,"a":23.7,"b":-6.7},{"m":16,"t":162,"a":20.1,"b":-7.6},{"m":16,"t":174,"a":21.8,"b":-8.4},{"m":16,"t":186,"a":19.0,"b":-9.0},{"m":16,"t":198,"a":20.8,"b":-9.4},{"m":16,"t":210,"a":17.7,"b":-10.5},{"m":16,"t":222,"a":20.0,"b":-10.8},{"m":16,"t":234,"a":16.7,"b":-11.1},{"m":16,"t":246,"a":18.5,"b":-11.4},{"m":16,"t":258,"a":16.1,"b":-11.6},{"m":16,"t":270,"a":18.5,"b":-11.8},{"m":16,"t":282,"a":16.3,"b":-11.1},{"m":16,"t":294,"a":19.9,"b":-11.0},{"m":16,"t":306,"a":18.6,"b":-10.9},{"m":16,"t":318,"a":21.4,"b":-9.7},{"m":16,"t":330,"a":20.1,"b":-8.0},{"m":16,"t":342,"a":23.0,"b":-6.6},{"m":16,"t":354,"a":22.1,"b":-6.0},{"m":16,"t":366,"a":23.9,"b":-7.3},{"m":16,"t":378,"a":20.6,"b":-7.8},{"m":16,"t":384,"a":21.0,"b":-8.6},
{"m":17,"t":0,"a":15.8,"b":-11.0},{"m":17,"t":6,"a":17.0,"b":-11.5},{"m":17,"t":18,"a":12.9,"b":-13.1},{"m":17,"t":30,"a":17.1,"b":-12.2},{"m":17,"t":42,"a":14.4,"b":-12.0},{"m":17,"t":54,"a":18.1,"b":-11.6},{"m":17,"t":66,"a":15.3,"b":-11.3},{"m":17,"t":78,"a":19.5,"b":-11.0},{"m":17,"t":90,"a":15.5,"b":-12.0},{"m":17,"t":102,"a":18.3,"b":-10.4},{"m":17,"t":114,"a":15.8,"b":-9.6},{"m":17,"t":126,"a":20.8,"b":-8.3},{"m":17,"t":138,"a":17.1,"b":-9.6},{"m":17,"t":150,"a":19.7,"b":-10.7},{"m":17,"t":162,"a":16.1,"b":-11.6},{"m":17,"t":174,"a":18.8,"b":-11.4},{"m":17,"t":186,"a":17.0,"b":-11.0},{"m":17,"t":198,"a":19.8,"b":-10.4},{"m":17,"t":210,"a":17.7,"b":-10.5},{"m":17,"t":222,"a":21.0,"b":-9.8},{"m":17,"t":234,"a":17.7,"b":-10.1},{"m":17,"t":246,"a":19.0,"b":-10.9},{"m":17,"t":258,"a":16.1,"b":-11.6},{"m":17,"t":270,"a":18.5,"b":-11.8},{"m":17,"t":282,"a":15.3,"b":-12.1},{"m":17,"t":294,"a":18.9,"b":-12.0},{"m":17,"t":306,"a":17.6,"b":-11.9},{"m":17,"t":318,"a":20.4,"b":-10.7},{"m":17,"t":330,"a":19.1,"b":-9.0},{"m":17,"t":342,"a":20.0,"b":-9.6},{"m":17,"t":354,"a":17.1,"b":-11.0},{"m":17,"t":366,"a":20.9,"b":-10.3},{"m":17,"t":378,"a":19.6,"b":-8.8},{"m":17,"t":384,"a":22.0,"b":-7.6},
{"m":18,"t":0,"a":15.8,"b":-11.0},{"m":18,"t":6,"a":17.4,"b":-11.1},{"m":18,"t":18,"a":13.5,"b":-12.5},{"m":18,"t":30,"a":17.8,"b":-11.5},{"m":18,"t":42,"a":15.7,"b":-10.7},{"m":18,"t":54,"a":20.1,"b":-9.6},{"m":18,"t":66,"a":18.3,"b":-8.3},{"m":18,"t":78,"a":23.5,"b":-7.0},{"m":18,"t":90,"a":20.5,"b":-7.0},{"m":18,"t":102,"a":23.8,"b":-5.3},{"m":18,"t":114,"a":20.3,"b":-5.1},{"m":18,"t":126,"a":24.3,"b":-4.8},{"m":18,"t":138,"a":21.1,"b":-5.6},{"m":18,"t":150,"a":23.7,"b":-6.7},{"m":18,"t":162,"a":20.1,"b":-7.6},{"m":18,"t":174,"a":21.8,"b":-8.4},{"m":18,"t":186,"a":19.0,"b":-9.0},{"m":18,"t":198,"a":21.8,"b":-8.4},{"m":18,"t":210,"a":19.7,"b":-8.5},{"m":18,"t":222,"a":23.0,"b":-7.8},{"m":18,"t":234,"a":20.7,"b":-7.1},{"m":18,"t":246,"a":22.5,"b":-7.4},{"m":18,"t":258,"a":20.1,"b":-7.6},{"m":18,"t":270,"a":22.5,"b":-7.8},{"m":18,"t":282,"a":19.3,"b":-8.1},{"m":18,"t":294,"a":21.9,"b":-9.0},{"m":18,"t":306,"a":20.6,"b":-8.9},{"m":18,"t":318,"a":23.4,"b":-7.7},{"m":18,"t":330,"a":22.1,"b":-6.0},{"m":18,"t":342,"a":25.0,"b":-4.6},{"m":18,"t":354,"a":23.6,"b":-4.9},{"m":18,"t":366,"a":25.9,"b":-5.3},{"m":18,"t":378,"a":22.6,"b":-5.8},{"m":18,"t":384,"a":23.0,"b":-6.6},
{"m":19,"t":0,"a":15.8,"b":-11.0},{"m":19,"t":6,"a":17.1,"b":-11.4},{"m":19,"t":18,"a":13.3,"b":-12.7},{"m":19,"t":30,"a":17.3,"b":-12.0},{"m":19,"t":42,"a":14.6,"b":-11.8},{"m":19,"t":54,"a":19.1,"b":-10.6},{"m":19,"t":66,"a":17.3,"b":-9.3},{"m":19,"t":78,"a":22.5,"b":-8.0},{"m":19,"t":90,"a":19.5,"b":-8.0},{"m":19,"t":102,"a":21.3,"b":-7.4},{"m":19,"t":114,"a":17.8,"b":-7.6},{"m":19,"t":126,"a":21.8,"b":-7.3},{"m":19,"t":138,"a":18.6,"b":-8.1},{"m":19,"t":150,"a":22.2,"b":-8.2},{"m":19,"t":162,"a":19.6,"b":-8.1},{"m":19,"t":174,"a":22.3,"b":-7.9},{"m":19,"t":186,"a":20.5,"b":-7.5},{"m":19,"t":198,"a":22.3,"b":-7.9},{"m":19,"t":210,"a":19.2,"b":-9.0},{"m":19,"t":222,"a":21.5,"b":-9.3},{"m":19,"t":234,"a":18.2,"b":-9.6},{"m":19,"t":246,"a":20.0,"b":-9.9},{"m":19,"t":258,"a":17.6,"b":-10.1},{"m":19,"t":270,"a":21.0,"b":-9.3},{"m":19,"t":282,"a":18.8,"b":-8.6},{"m":19,"t":294,"a":22.4,"b":-8.5},{"m":19,"t":306,"a":21.1,"b":-8.4},{"m":19,"t":318,"a":23.4,"b":-7.7},{"m":19,"t":330,"a":21.6,"b":-6.5},{"m":19,"t":342,"a":24.0,"b":-5.6},{"m":19,"t":354,"a":22.6,"b":-5.5},{"m":19,"t":366,"a":24.9,"b":-6.3},{"m":19,"t":378,"a":22.1,"b":-6.3},{"m":19,"t":384,"a":23.0,"b":-6.6},
{"m":20,"t":0,"a":15.8,"b":-11.0},{"m":20,"t":6,"a":17.3,"b":-11.2},{"m":20,"t":18,"a":13.2,"b":-12.8},{"m":20,"t":30,"a":17.2,"b":-12.1},{"m":20,"t":42,"a":14.9,"b":-11.5},{"m":20,"t":54,"a":18.6,"b":-11.1},{"m":20,"t":66,"a":15.8,"b":-10.8},{"m":20,"t":78,"a":21.0,"b":-9.5},{"m":20,"t":90,"a":18.0,"b":-9.5},{"m":20,"t":102,"a":20.8,"b":-7.9},{"m":20,"t":114,"a":18.3,"b":-7.1},{"m":20,"t":126,"a":23.3,"b":-5.8},{"m":20,"t":138,"a":20.1,"b":-6.6},{"m":20,"t":150,"a":22.7,"b":-7.7},{"m":20,"t":162,"a":19.1,"b":-8.6},{"m":20,"t":174,"a":20.8,"b":-9.4},{"m":20,"t":186,"a":18.0,"b":-10.0},{"m":20,"t":198,"a":19.8,"b":-10.4},{"m":20,"t":210,"a":16.7,"b":-11.5},{"m":20,"t":222,"a":20.0,"b":-10.8},{"m":20,"t":234,"a":17.7,"b":-10.1},{"m":20,"t":246,"a":20.5,"b":-9.4},{"m":20,"t":258,"a":19.1,"b":-8.6},{"m":20,"t":270,"a":22.5,"b":-7.8},{"m":20,"t":282,"a":20.3,"b":-7.1},{"m":20,"t":294,"a":23.9,"b":-7.0},{"m":20,"t":306,"a":22.6,"b":-6.9},{"m":20,"t":318,"a":24.9,"b":-6.2},{"m":20,"t":330,"a":22.1,"b":-6.0},{"m":20,"t":342,"a":23.5,"b":-6.1},{"m":20,"t":354,"a":21.1,"b":-7.0},{"m":20,"t":366,"a":22.9,"b":-8.3},{"m":20,"t":378,"a":19.6,"b":-8.8},{"m":20,"t":384,"a":20.0,"b":-9.6},
{"m":21,"t":0,"a":15.8,"b":-11.0},{"m":21,"t":6,"a":17.5,"b":-11.0},{"m":21,"t":18,"a":13.4,"b":-12.6},{"m":21,"t":30,"a":17.4,"b":-11.9},{"m":21,"t":42,"a":15.4,"b":-11.0},{"m":21,"t":54,"a":19.9,"b":-9.8},{"m":21,"t":66,"a":17.3,"b":-9.3},{"m":21,"t":78,"a":21.5,"b":-9.0},{"m":21,"t":90,"a":17.0,"b":-10.5},{"m":21,"t":102,"a":18.8,"b":-9.9},{"m":21,"t":114,"a":16.3,"b":-9.1},{"m":21,"t":126,"a":21.3,"b":-7.8},{"m":21,"t":138,"a":19.1,"b":-7.6},{"m":21,"t":150,"a":22.7,"b":-7.7},{"m":21,"t":162,"a":20.1,"b":-7.6},{"m":21,"t":174,"a":22.8,"b":-7.4},{"m":21,"t":186,"a":21.0,"b":-7.0},{"m":21,"t":198,"a":23.8,"b":-6.4},{"m":21,"t":210,"a":20.7,"b":-7.5},{"m":21,"t":222,"a":23.0,"b":-7.8},{"m":21,"t":234,"a":19.7,"b":-8.1},{"m":21,"t":246,"a":22.5,"b":-7.4},{"m":21,"t":258,"a":21.1,"b":-6.6},{"m":21,"t":270,"a":24.5,"b":-5.8},{"m":21,"t":282,"a":22.3,"b":-5.1},{"m":21,"t":294,"a":24.9,"b":-6.0},{"m":21,"t":306,"a":22.6,"b":-6.9},{"m":21,"t":318,"a":23.9,"b":-7.2},{"m":21,"t":330,"a":21.1,"b":-7.0},{"m":21,"t":342,"a":22.5,"b":-7.1},{"m":21,"t":354,"a":20.1,"b":-8.0},{"m":21,"t":366,"a":23.9,"b":-7.3},{"m":21,"t":378,"a":22.6,"b":-5.8},{"m":21,"t":384,"a":25.0,"b":-4.6},
{"m":22,"t":0,"a":15.8,"b":-11.0},{"m":22,"t":6,"a":17.0,"b":-11.5},{"m":22,"t":18,"a":13.1,"b":-12.9},{"m":22,"t":30,"a":17.3,"b":-12.0},{"m":22,"t":42,"a":15.1,"b":-11.3},{"m":22,"t":54,"a":19.6,"b":-10.1},{"m":22,"t":66,"a":17.8,"b":-8.8},{"m":22,"t":78,"a":22.0,"b":-8.5},{"m":22,"t":90,"a":18.0,"b":-9.5},{"m":22,"t":102,"a":19.8,"b":-8.9},{"m":22,"t":114,"a":16.3,"b":-9.1},{"m":22,"t":126,"a":20.3,"b":-8.8},{"m":22,"t":138,"a":18.1,"b":-8.6},{"m":22,"t":150,"a":21.7,"b":-8.7},{"m":22,"t":162,"a":19.1,"b":-8.6},{"m":22,"t":174,"a":21.8,"b":-8.4},{"m":22,"t":186,"a":19.0,"b":-9.0},{"m":22,"t":198,"a":20.8,"b":-9.4},{"m":22,"t":210,"a":17.7,"b":-10.5},{"m":22,"t":222,"a":21.0,"b":-9.8},{"m":22,"t":234,"a":18.7,"b":-9.1},{"m":22,"t":246,"a":21.5,"b":-8.4},{"m":22,"t":258,"a":20.1,"b":-7.6},{"m":22,"t":270,"a":23.5,"b":-6.8},{"m":22,"t":282,"a":21.3,"b":-6.1},{"m":22,"t":294,"a":23.9,"b":-7.0},{"m":22,"t":306,"a":21.6,"b":-7.9},{"m":22,"t":318,"a":22.4,"b":-8.7},{"m":22,"t":330,"a":19.1,"b":-9.0},{"m":22,"t":342,"a":20.0,"b":-9.6},{"m":22,"t":354,"a":17.6,"b":-10.5},{"m":22,"t":366,"a":19.9,"b":-11.3},{"m":22,"t":378,"a":18.1,"b":-10.3},{"m":22,"t":384,"a":20.0,"b":-9.6},
{"m":23,"t":0,"a":15.8,"b":-11.0},{"m":23,"t":6,"a":17.2,"b":-11.3},{"m":23,"t":18,"a":13.4,"b":-12.6},{"m":23,"t":30,"a":17.5,"b":-11.8},{"m":23,"t":42,"a":15.2,"b":-11.2},{"m":23,"t":54,"a":18.6,"b":-11.1},{"m":23,"t":66,"a":16.3,"b":-10.3},{"m":23,"t":78,"a":20.5,"b":-10.0},{"m":23,"t":90,"a":16.5,"b":-11.0},{"m":23,"t":102,"a":18.3,"b":-10.4},{"m":23,"t":114,"a":15.8,"b":-9.6},{"m":23,"t":126,"a":20.8,"b":-8.3},{"m":23,"t":138,"a":18.6,"b":-8.1},{"m":23,"t":150,"a":22.2,"b":-8.2},{"m":23,"t":162,"a":19.6,"b":-8.1},{"m":23,"t":174,"a":21.3,"b":-8.9},{"m":23,"t":186,"a":18.5,"b":-9.5},{"m":23,"t":198,"a":20.3,"b":-9.9},{"m":23,"t":210,"a":17.2,"b":-11.0},{"m":23,"t":222,"a":19.5,"b":-11.3},{"m":23,"t":234,"a":16.2,"b":-11.6},{"m":23,"t":246,"a":18.0,"b":-11.9},{"m":23,"t":258,"a":16.6,"b":-11.1},{"m":23,"t":270,"a":20.0,"b":-10.3},{"m":23,"t":282,"a":17.8,"b":-9.6},{"m":23,"t":294,"a":21.4,"b":-9.5},{"m":23,"t":306,"a":20.1,"b":-9.4},{"m":23,"t":318,"a":22.4,"b":-8.7},{"m":23,"t":330,"a":20.6,"b":-7.5},{"m":23,"t":342,"a":23.0,"b":-6.6},{"m":23,"t":354,"a":20.6,"b":-7.5},{"m":23,"t":366,"a":22.9,"b":-8.3},{"m":23,"t":378,"a":20.1,"b":-8.3},{"m":23,"t":384,"a":21.0,"b":-8.6},
{"m":24,"t":0,"a":15.8,"b":-11.0},{"m":24,"t":6,"a":17.4,"b":-11.1},{"m":24,"t":18,"a":13.5,"b":-12.5},{"m":24,"t":30,"a":17.6,"b":-11.7},{"m":24,"t":42,"a":15.4,"b":-11.0},{"m":24,"t":54,"a":19.6,"b":-10.1},{"m":24,"t":66,"a":17.8,"b":-8.8},{"m":24,"t":78,"a":23.0,"b":-7.5},{"m":24,"t":90,"a":20.0,"b":-7.5},{"m":24,"t":102,"a":21.8,"b":-6.9},{"m":24,"t":114,"a":18.3,"b":-7.1},{"m":24,"t":126,"a":22.3,"b":-6.8},{"m":24,"t":138,"a":20.1,"b":-6.6},{"m":24,"t":150,"a":23.7,"b":-6.7},{"m":24,"t":162,"a":21.1,"b":-6.6},{"m":24,"t":174,"a":23.8,"b":-6.4},{"m":24,"t":186,"a":22.0,"b":-6.0},{"m":24,"t":198,"a":23.8,"b":-6.4},{"m":24,"t":210,"a":20.7,"b":-7.5},{"m":24,"t":222,"a":23.0,"b":-7.8},{"m":24,"t":234,"a":19.7,"b":-8.1},{"m":24,"t":246,"a":21.5,"b":-8.4},{"m":24,"t":258,"a":19.1,"b":-8.6},{"m":24,"t":270,"a":21.0,"b":-9.3},{"m":24,"t":282,"a":17.3,"b":-10.1},{"m":24,"t":294,"a":19.4,"b":-11.5},{"m":24,"t":306,"a":18.1,"b":-11.4},{"m":24,"t":318,"a":20.4,"b":-10.7},{"m":24,"t":330,"a":18.6,"b":-9.5},{"m":24,"t":342,"a":21.0,"b":-8.6},{"m":24,"t":354,"a":18.1,"b":-10.0},{"m":24,"t":366,"a":19.9,"b":-11.3},{"m":24,"t":378,"a":16.6,"b":-11.8},{"m":24,"t":384,"a":19.0,"b":-10.6},
{"m":25,"t":0,"a":15.8,"b":-11.0},{"m":25,"t":6,"a":17.0,"b":-11.5},{"m":25,"t":18,"a":13.1,"b":-12.9},{"m":25,"t":30,"a":17.0,"b":-12.3},{"m":25,"t":42,"a":14.6,"b":-11.8},{"m":25,"t":54,"a":18.6,"b":-11.1},{"m":25,"t":66,"a":16.3,"b":-10.3},{"m":25,"t":78,"a":21.5,"b":-9.0},{"m":25,"t":90,"a":18.5,"b":-9.0},{"m":25,"t":102,"a":20.3,"b":-8.4},{"m":25,"t":114,"a":16.8,"b":-8.6},{"m":25,"t":126,"a":20.8,"b":-8.3},{"m":25,"t":138,"a":17.6,"b":-9.1},{"m":25,"t":150,"a":21.2,"b":-9.2},{"m":25,"t":162,"a":18.6,"b":-9.1},{"m":25,"t":174,"a":21.3,"b":-8.9},{"m":25,"t":186,"a":19.5,"b":-8.5},{"m":25,"t":198,"a":22.3,"b":-7.9},{"m":25,"t":210,"a":20.2,"b":-8.0},{"m":25,"t":222,"a":23.5,"b":-7.3},{"m":25,"t":234,"a":20.2,"b":-7.6},{"m":25,"t":246,"a":22.0,"b":-7.9},{"m":25,"t":258,"a":19.6,"b":-8.1},{"m":25,"t":270,"a":22.0,"b":-8.3},{"m":25,"t":282,"a":18.8,"b":-8.6},{"m":25,"t":294,"a":21.4,"b":-9.5},{"m":25,"t":306,"a":19.1,"b":-10.4},{"m":25,"t":318,"a":21.4,"b":-9.7},{"m":25,"t":330,"a":19.6,"b":-8.5},{"m":25,"t":342,"a":22.0,"b":-7.6},{"m":25,"t":354,"a":20.6,"b":-7.5},{"m":25,"t":366,"a":23.9,"b":-7.3},{"m":25,"t":378,"a":22.1,"b":-6.3},{"m":25,"t":384,"a":24.0,"b":-5.6},
{"m":26,"t":0,"a":15.8,"b":-11.0},{"m":26,"t":6,"a":17.4,"b":-11.1},{"m":26,"t":18,"a":13.0,"b":-13.0},{"m":26,"t":30,"a":17.3,"b":-12.0},{"m":26,"t":42,"a":14.6,"b":-11.8},{"m":26,"t":54,"a":18.6,"b":-11.1},{"m":26,"t":66,"a":16.8,"b":-9.8},{"m":26,"t":78,"a":22.0,"b":-8.5},{"m":26,"t":90,"a":19.0,"b":-8.5},{"m":26,"t":102,"a":20.8,"b":-7.9},{"m":26,"t":114,"a":17.3,"b":-8.1},{"m":26,"t":126,"a":21.3,"b":-7.8},{"m":26,"t":138,"a":18.1,"b":-8.6},{"m":26,"t":150,"a":21.7,"b":-8.7},{"m":26,"t":162,"a":19.1,"b":-8.6},{"m":26,"t":174,"a":20.8,"b":-9.4},{"m":26,"t":186,"a":18.0,"b":-10.0},{"m":26,"t":198,"a":19.8,"b":-10.4},{"m":26,"t":210,"a":17.7,"b":-10.5},{"m":26,"t":222,"a":21.5,"b":-9.3},{"m":26,"t":234,"a":19.2,"b":-8.6},{"m":26,"t":246,"a":21.0,"b":-8.9},{"m":26,"t":258,"a":18.1,"b":-9.6},{"m":26,"t":270,"a":20.5,"b":-9.8},{"m":26,"t":282,"a":18.3,"b":-9.1},{"m":26,"t":294,"a":22.4,"b":-8.5},{"m":26,"t":306,"a":19.6,"b":-9.9},{"m":26,"t":318,"a":20.4,"b":-10.7},{"m":26,"t":330,"a":17.1,"b":-11.0},{"m":26,"t":342,"a":18.0,"b":-11.6},{"m":26,"t":354,"a":15.1,"b":-13.0},{"m":26,"t":366,"a":15.9,"b":-13.9},{"m":26,"t":378,"a":8.6,"b":-14.9},{"m":26,"t":384,"a":12.0,"b":-14.1},
{"m":27,"t":0,"a":15.8,"b":-11.0},{"m":27,"t":6,"a":17.3,"b":-11.2},{"m":27,"t":18,"a":13.3,"b":-12.7},{"m":27,"t":30,"a":17.5,"b":-11.8},{"m":27,"t":42,"a":14.9,"b":-11.5},{"m":27,"t":54,"a":19.4,"b":-10.3},{"m":27,"t":66,"a":16.8,"b":-9.8},{"m":27,"t":78,"a":21.0,"b":-9.5},{"m":27,"t":90,"a":17.0,"b":-10.5},{"m":27,"t":102,"a":19.8,"b":-8.9},{"m":27,"t":114,"a":17.3,"b":-8.1},{"m":27,"t":126,"a":22.3,"b":-6.8},{"m":27,"t":138,"a":20.1,"b":-6.6},{"m":27,"t":150,"a":22.7,"b":-7.7},{"m":27,"t":162,"a":19.1,"b":-8.6},{"m":27,"t":174,"a":20.8,"b":-9.4},{"m":27,"t":186,"a":18.0,"b":-10.0},{"m":27,"t":198,"a":20.8,"b":-9.4},{"m":27,"t":210,"a":18.7,"b":-9.5},{"m":27,"t":222,"a":22.0,"b":-8.8},{"m":27,"t":234,"a":19.7,"b":-8.1},{"m":27,"t":246,"a":22.5,"b":-7.4},{"m":27,"t":258,"a":20.1,"b":-7.6},{"m":27,"t":270,"a":22.5,"b":-7.8},{"m":27,"t":282,"a":19.3,"b":-8.1},{"m":27,"t":294,"a":21.4,"b":-9.5},{"m":27,"t":306,"a":18.6,"b":-10.9},{"m":27,"t":318,"a":19.9,"b":-11.2},{"m":27,"t":330,"a":18.1,"b":-10.0},{"m":27,"t":342,"a":20.5,"b":-9.1},{"m":27,"t":354,"a":19.1,"b":-9.0},{"m":27,"t":366,"a":21.4,"b":-9.8},{"m":27,"t":378,"a":18.6,"b":-9.8},{"m":27,"t":384,"a":19.5,"b":-10.1},
{"m":28,"t":0,"a":15.8,"b":-11.0},{"m":28,"t":6,"a":17.1,"b":-11.4},{"m":28,"t":18,"a":13.4,"b":-12.6},{"m":28,"t":30,"a":17.1,"b":-12.2},{"m":28,"t":42,"a":14.6,"b":-11.8},{"m":28,"t":54,"a":19.4,"b":-10.3},{"m":28,"t":66,"a":17.3,"b":-9.3},{"m":28,"t":78,"a":22.5,"b":-8.0},{"m":28,"t":90,"a":19.0,"b":-8.5},{"m":28,"t":102,"a":20.8,"b":-7.9},{"m":28,"t":114,"a":17.3,"b":-8.1},{"m":28,"t":126,"a":21.3,"b":-7.8},{"m":28,"t":138,"a":18.1,"b":-8.6},{"m":28,"t":150,"a":20.7,"b":-9.7},{"m":28,"t":162,"a":18.1,"b":-9.6},{"m":28,"t":174,"a":20.8,"b":-9.4},{"m":28,"t":186,"a":19.0,"b":-9.0},{"m":28,"t":198,"a":21.8,"b":-8.4},{"m":28,"t":210,"a":19.7,"b":-8.5},{"m":28,"t":222,"a":22.0,"b":-8.8},{"m":28,"t":234,"a":18.7,"b":-9.1},{"m":28,"t":246,"a":20.5,"b":-9.4},{"m":28,"t":258,"a":18.1,"b":-9.6},{"m":28,"t":270,"a":20.5,"b":-9.8},{"m":28,"t":282,"a":17.3,"b":-10.1},{"m":28,"t":294,"a":20.9,"b":-10.0},{"m":28,"t":306,"a":19.6,"b":-9.9},{"m":28,"t":318,"a":21.9,"b":-9.2},{"m":28,"t":330,"a":20.1,"b":-8.0},{"m":28,"t":342,"a":22.5,"b":-7.1},{"m":28,"t":354,"a":21.1,"b":-7.0},{"m":28,"t":366,"a":24.4,"b":-6.8},{"m":28,"t":378,"a":21.6,"b":-6.8},{"m":28,"t":384,"a":22.5,"b":-7.1},
{"m":29,"t":0,"a":15.8,"b":-11.0},{"m":29,"t":6,"a":17.3,"b":-11.2},{"m":29,"t":18,"a":13.0,"b":-13.0},{"m":29,"t":30,"a":17.4,"b":-11.9},{"m":29,"t":42,"a":15.1,"b":-11.3},{"m":29,"t":54,"a":19.1,"b":-10.6},{"m":29,"t":66,"a":16.5,"b":-10.1},{"m":29,"t":78,"a":21.0,"b":-9.5},{"m":29,"t":90,"a":18.0,"b":-9.5},{"m":29,"t":102,"a":20.8,"b":-7.9},{"m":29,"t":114,"a":18.3,"b":-7.1},{"m":29,"t":126,"a":23.3,"b":-5.8},{"m":29,"t":138,"a":20.1,"b":-6.6},{"m":29,"t":150,"a":22.7,"b":-7.7},{"m":29,"t":162,"a":19.1,"b":-8.6},{"m":29,"t":174,"a":21.8,"b":-8.4},{"m":29,"t":186,"a":20.0,"b":-8.0},{"m":29,"t":198,"a":22.8,"b":-7.4},{"m":29,"t":210,"a":19.7,"b":-8.5},{"m":29,"t":222,"a":22.0,"b":-8.8},{"m":29,"t":234,"a":18.7,"b":-9.1},{"m":29,"t":246,"a":20.5,"b":-9.4},{"m":29,"t":258,"a":19.1,"b":-8.6},{"m":29,"t":270,"a":22.5,"b":-7.8},{"m":29,"t":282,"a":20.3,"b":-7.1},{"m":29,"t":294,"a":23.9,"b":-7.0},{"m":29,"t":306,"a":21.6,"b":-7.9},{"m":29,"t":318,"a":22.9,"b":-8.2},{"m":29,"t":330,"a":20.1,"b":-8.0},{"m":29,"t":342,"a":21.5,"b":-8.1},{"m":29,"t":354,"a":19.1,"b":-9.0},{"m":29,"t":366,"a":22.9,"b":-8.3},{"m":29,"t":378,"a":21.6,"b":-6.8},{"m":29,"t":384,"a":24.0,"b":-5.6},
{"m":30,"t":0,"a":15.8,"b":-11.0},{"m":30,"t":6,"a":17.2,"b":-11.3},{"m":30,"t":18,"a":13.0,"b":-13.0},{"m":30,"t":30,"a":17.0,"b":-12.3},{"m":30,"t":42,"a":14.4,"b":-12.0},{"m":30,"t":54,"a":18.1,"b":-11.6},{"m":30,"t":66,"a":15.3,"b":-11.3},{"m":30,"t":78,"a":20.5,"b":-10.0},{"m":30,"t":90,"a":17.5,"b":-10.0},{"m":30,"t":102,"a":19.3,"b":-9.4},{"m":30,"t":114,"a":15.8,"b":-9.6},{"m":30,"t":126,"a":19.8,"b":-9.3},{"m":30,"t":138,"a":16.6,"b":-10.1},{"m":30,"t":150,"a":20.2,"b":-10.2},{"m":30,"t":162,"a":17.6,"b":-10.1},{"m":30,"t":174,"a":19.3,"b":-10.9},{"m":30,"t":186,"a":16.5,"b":-11.5},{"m":30,"t":198,"a":18.8,"b":-11.4},{"m":30,"t":210,"a":15.7,"b":-12.5},{"m":30,"t":222,"a":18.5,"b":-12.3},{"m":30,"t":234,"a":15.4,"b":-12.4},{"m":30,"t":246,"a":18.5,"b":-11.4},{"m":30,"t":258,"a":17.1,"b":-10.6},{"m":30,"t":270,"a":20.5,"b":-9.8},{"m":30,"t":282,"a":18.3,"b":-9.1},{"m":30,"t":294,"a":21.9,"b":-9.0},{"m":30,"t":306,"a":20.6,"b":-8.9},{"m":30,"t":318,"a":22.9,"b":-8.2},{"m":30,"t":330,"a":21.1,"b":-7.0},{"m":30,"t":342,"a":22.5,"b":-7.1},{"m":30,"t":354,"a":20.1,"b":-8.0},{"m":30,"t":366,"a":22.4,"b":-8.8},{"m":30,"t":378,"a":19.6,"b":-8.8},{"m":30,"t":384,"a":20.5,"b":-9.1}
]},
"resolve":{"scale":{"x":"independent","y":"independent"}},
"layer":[
{"data":{"name":"ens"},"mark":{"type":"line","strokeWidth":1,"point":{"filled":true,"size":3,"shape":"square"}},
"encoding":{"x":{"field":"t","type":"quantitative","title":null,"scale":{"domain":[0,384],"nice":false,"zero":false},"axis":{"orient":"bottom","title":null,"values":[12,36,60,84,108,132,156,180,204,228,252,276,300,324,348,372],"labelExpr":"(((datum.value-12)/24+6)<10?'0':'')+((datum.value-12)/24+6)+'/07'","labelAngle":270,"labelAlign":"right","labelBaseline":"top","labelPadding":2,"labelFontSize":6,"labelColor":"#222222","ticks":false,"grid":true,"gridColor":"#d2d2d2","gridWidth":1,"domainColor":"#999999","domainWidth":2,"labelOverlap":false,"labelBound":false,"labelFlush":false}},
"y":{"field":"a","type":"quantitative","title":null,"scale":{"domain":[-51.34,33.24],"nice":false,"zero":false},"axis":{"orient":"left","title":null,"values":[-45,-40,-35,-30,-25,-20,-15,-10,-5,0,5,10,15,20,25,30],"grid":true,"gridColor":"#d2d2d2","gridWidth":1,"ticks":false,"labelPadding":9,"labelFontSize":6,"labelColor":"#333333","domainColor":"#999999","domainWidth":2,"labelOverlap":false}},
"color":{"field":"m","type":"nominal","scale":{"domain":[1,2,3,4,5,6,7,8,9,10,11,12,13,14,15,16,17,18,19,20,21,22,23,24,25,26,27,28,29,30],"range":["#f0a050","#90c860","#f0d000","#9050c0","#c06020","#5a8a10","#3090f0","#e0d0a8","#70a0c0","#e0b070","#f08020","#e05030","#c8c080","#40b040","#206070","#708090","#f080f0","#8040e0","#906040","#300080","#f0e000","#a08050","#604020","#a0a0f0","#80f040","#5030b0","#002090","#d8d0c0","#a00000","#0040d0"]},"legend":null}}},
{"data":{"name":"pr"},"mark":{"type":"line","strokeWidth":1},
"encoding":{"x":{"field":"t","type":"quantitative","scale":{"domain":[0,384],"nice":false,"zero":false},"axis":null},
"y":{"field":"r","type":"quantitative","title":null,"scale":{"domain":[-6.34,78.24],"nice":false,"zero":false},"axis":{"orient":"right","title":null,"values":[0,5,10,15,20,25,30,35,40,45,50,55,60,65,70,75],"grid":false,"ticks":false,"labelPadding":10,"labelFontSize":6,"labelColor":"#333333","domainColor":"#999999","domainWidth":2,"labelOverlap":false}},
"color":{"field":"m","type":"nominal","scale":{"domain":[1,2,3,4,5,6,7,8,9,10,11,12,13,14,15,16,17,18,19,20,21,22,23,24,25,26,27,28,29,30],"range":["#f0a050","#90c860","#f0d000","#9050c0","#c06020","#5a8a10","#3090f0","#e0d0a8","#70a0c0","#e0b070","#f08020","#e05030","#c8c080","#40b040","#206070","#708090","#f080f0","#8040e0","#906040","#300080","#f0e000","#a08050","#604020","#a0a0f0","#80f040","#5030b0","#002090","#d8d0c0","#a00000","#0040d0"]},"legend":null}}},
{"data":{"name":"ens"},"mark":{"type":"line","strokeWidth":1,"point":{"filled":true,"size":3,"shape":"square"}},
"encoding":{"x":{"field":"t","type":"quantitative","scale":{"domain":[0,384],"nice":false,"zero":false},"axis":null},
"y":{"field":"b","type":"quantitative","scale":{"domain":[-51.34,33.24],"nice":false,"zero":false},"axis":null},
"color":{"field":"m","type":"nominal","scale":{"domain":[1,2,3,4,5,6,7,8,9,10,11,12,13,14,15,16,17,18,19,20,21,22,23,24,25,26,27,28,29,30],"range":["#f0a050","#90c860","#f0d000","#9050c0","#c06020","#5a8a10","#3090f0","#e0d0a8","#70a0c0","#e0b070","#f08020","#e05030","#c8c080","#40b040","#206070","#708090","#f080f0","#8040e0","#906040","#300080","#f0e000","#a08050","#604020","#a0a0f0","#80f040","#5030b0","#002090","#d8d0c0","#a00000","#0040d0"]},"legend":null}}},
{"data":{"name":"sp"},"transform":[{"filter":"datum.k=='gfs'"}],"mark":{"type":"line","color":"#000000","strokeWidth":2},
"encoding":{"x":{"field":"t","type":"quantitative","scale":{"domain":[0,384],"nice":false,"zero":false},"axis":null},"y":{"field":"a","type":"quantitative","scale":{"domain":[-51.34,33.24],"nice":false,"zero":false},"axis":null}}},
{"data":{"name":"sp"},"transform":[{"filter":"datum.k=='gfs'"}],"mark":{"type":"line","color":"#000000","strokeWidth":2},
"encoding":{"x":{"field":"t","type":"quantitative","scale":{"domain":[0,384],"nice":false,"zero":false},"axis":null},"y":{"field":"b","type":"quantitative","scale":{"domain":[-51.34,33.24],"nice":false,"zero":false},"axis":null}}},
{"data":{"name":"sp"},"transform":[{"filter":"datum.k=='gfs'"}],"mark":{"type":"line","color":"#000000","strokeWidth":2},
"encoding":{"x":{"field":"t","type":"quantitative","scale":{"domain":[0,384],"nice":false,"zero":false},"axis":null},"y":{"field":"r","type":"quantitative","scale":{"domain":[-6.34,78.24],"nice":false,"zero":false},"axis":null}}},
{"data":{"name":"sp"},"transform":[{"filter":"datum.k=='ctl'"}],"mark":{"type":"line","color":"#0000ff","strokeWidth":2},
"encoding":{"x":{"field":"t","type":"quantitative","scale":{"domain":[0,384],"nice":false,"zero":false},"axis":null},"y":{"field":"a","type":"quantitative","scale":{"domain":[-51.34,33.24],"nice":false,"zero":false},"axis":null}}},
{"data":{"name":"sp"},"transform":[{"filter":"datum.k=='ctl'"}],"mark":{"type":"line","color":"#0000ff","strokeWidth":2},
"encoding":{"x":{"field":"t","type":"quantitative","scale":{"domain":[0,384],"nice":false,"zero":false},"axis":null},"y":{"field":"b","type":"quantitative","scale":{"domain":[-51.34,33.24],"nice":false,"zero":false},"axis":null}}},
{"data":{"name":"sp"},"transform":[{"filter":"datum.k=='ctl'"}],"mark":{"type":"line","color":"#0000ff","strokeWidth":2},
"encoding":{"x":{"field":"t","type":"quantitative","scale":{"domain":[0,384],"nice":false,"zero":false},"axis":null},"y":{"field":"r","type":"quantitative","scale":{"domain":[-6.34,78.24],"nice":false,"zero":false},"axis":null}}},
{"data":{"name":"sp"},"transform":[{"filter":"datum.k=='avg'"}],"mark":{"type":"line","color":"#ff0000","strokeWidth":3},
"encoding":{"x":{"field":"t","type":"quantitative","scale":{"domain":[0,384],"nice":false,"zero":false},"axis":null},"y":{"field":"a","type":"quantitative","scale":{"domain":[-51.34,33.24],"nice":false,"zero":false},"axis":null}}},
{"data":{"name":"sp"},"transform":[{"filter":"datum.k=='avg'"}],"mark":{"type":"line","color":"#ff0000","strokeWidth":3},
"encoding":{"x":{"field":"t","type":"quantitative","scale":{"domain":[0,384],"nice":false,"zero":false},"axis":null},"y":{"field":"b","type":"quantitative","scale":{"domain":[-51.34,33.24],"nice":false,"zero":false},"axis":null}}},
{"data":{"name":"sp"},"transform":[{"filter":"datum.k=='avg'"}],"mark":{"type":"line","color":"#ff0000","strokeWidth":3},
"encoding":{"x":{"field":"t","type":"quantitative","scale":{"domain":[0,384],"nice":false,"zero":false},"axis":null},"y":{"field":"r","type":"quantitative","scale":{"domain":[-6.34,78.24],"nice":false,"zero":false},"axis":null}}},
{"data":{"values":[{}]},"mark":{"type":"rule","color":"#8c8c8c","strokeWidth":2},
"encoding":{"y":{"datum":0.4,"type":"quantitative","scale":{"domain":[-51.34,33.24],"nice":false,"zero":false},"axis":null}}},
{"data":{"values":[{}]},"mark":{"type":"text","text":"GEFS-12Z-UPD: 05-07-2026 22:00","align":"left","baseline":"middle","fontSize":11,"font":"DejaVu Sans Mono","fill":"#f0f000","stroke":"#6a6a00","strokeWidth":0.4},
"encoding":{"x":{"datum":3.4,"type":"quantitative","scale":{"domain":[0,384],"nice":false,"zero":false},"axis":null},"y":{"datum":25.7,"type":"quantitative","scale":{"domain":[-51.34,33.24],"nice":false,"zero":false},"axis":null}}},
{"data":{"values":[{}]},"mark":{"type":"text","text":"Temp. 850hPa","align":"left","baseline":"middle","fontSize":5.5,"color":"#000000"},
"encoding":{"x":{"datum":6,"type":"quantitative","scale":{"domain":[0,384],"nice":false,"zero":false},"axis":null},"y":{"datum":21.5,"type":"quantitative","scale":{"domain":[-51.34,33.24],"nice":false,"zero":false},"axis":null}}},
{"data":{"values":[{}]},"mark":{"type":"text","text":"Temp. 500hPa","align":"left","baseline":"middle","fontSize":5.5,"color":"#000000"},
"encoding":{"x":{"datum":6,"type":"quantitative","scale":{"domain":[0,384],"nice":false,"zero":false},"axis":null},"y":{"datum":-7.9,"type":"quantitative","scale":{"domain":[-51.34,33.24],"nice":false,"zero":false},"axis":null}}},
{"data":{"values":[{}]},"mark":{"type":"text","text":"Précipitations","align":"left","baseline":"middle","fontSize":5.5,"color":"#000000"},
"encoding":{"x":{"datum":6,"type":"quantitative","scale":{"domain":[0,384],"nice":false,"zero":false},"axis":null},"y":{"datum":-43.4,"type":"quantitative","scale":{"domain":[-51.34,33.24],"nice":false,"zero":false},"axis":null}}},
{"data":{"values":[{}]},"mark":{"type":"text","text":"(°C)","align":"center","baseline":"middle","fontSize":5.5,"color":"#000000"},
"encoding":{"x":{"datum":-11.3,"type":"quantitative","scale":{"domain":[0,384],"nice":false,"zero":false},"axis":null},"y":{"datum":-53.5,"type":"quantitative","scale":{"domain":[-51.34,33.24],"nice":false,"zero":false},"axis":null}}},
{"data":{"values":[{}]},"mark":{"type":"text","text":"Alt. 162m","align":"left","baseline":"middle","fontSize":5.5,"color":"#000000"},
"encoding":{"x":{"datum":-24.8,"type":"quantitative","scale":{"domain":[0,384],"nice":false,"zero":false},"axis":null},"y":{"datum":-55.8,"type":"quantitative","scale":{"domain":[-51.34,33.24],"nice":false,"zero":false},"axis":null}}},
{"data":{"values":[{}]},"mark":{"type":"rule","color":"#ff0000","strokeWidth":3},
"encoding":{"x":{"datum":-9.8,"type":"quantitative","scale":{"domain":[0,384],"nice":false,"zero":false},"axis":null},"x2":{"datum":5.3},"y":{"datum":-57.9,"type":"quantitative","scale":{"domain":[-51.34,33.24],"nice":false,"zero":false},"axis":null}}},
{"data":{"values":[{}]},"mark":{"type":"text","text":"Moyenne des scénarios","align":"left","baseline":"middle","fontSize":5.5,"color":"#000000"},
"encoding":{"x":{"datum":14.6,"type":"quantitative","scale":{"domain":[0,384],"nice":false,"zero":false},"axis":null},"y":{"datum":-57.9,"type":"quantitative","scale":{"domain":[-51.34,33.24],"nice":false,"zero":false},"axis":null}}},
{"data":{"values":[{}]},"mark":{"type":"rule","color":"#0000ff","strokeWidth":3},
"encoding":{"x":{"datum":104.7,"type":"quantitative","scale":{"domain":[0,384],"nice":false,"zero":false},"axis":null},"x2":{"datum":123.9},"y":{"datum":-57.6,"type":"quantitative","scale":{"domain":[-51.34,33.24],"nice":false,"zero":false},"axis":null}}},
{"data":{"values":[{}]},"mark":{"type":"text","text":"Run de contrôle","align":"left","baseline":"middle","fontSize":5.5,"color":"#000000"},
"encoding":{"x":{"datum":128.4,"type":"quantitative","scale":{"domain":[0,384],"nice":false,"zero":false},"axis":null},"y":{"datum":-57.6,"type":"quantitative","scale":{"domain":[-51.34,33.24],"nice":false,"zero":false},"axis":null}}},
{"data":{"values":[{}]},"mark":{"type":"rule","color":"#000000","strokeWidth":3},
"encoding":{"x":{"datum":104.7,"type":"quantitative","scale":{"domain":[0,384],"nice":false,"zero":false},"axis":null},"x2":{"datum":123.9},"y":{"datum":-59.2,"type":"quantitative","scale":{"domain":[-51.34,33.24],"nice":false,"zero":false},"axis":null}}},
{"data":{"values":[{}]},"mark":{"type":"text","text":"Run GFS","align":"left","baseline":"middle","fontSize":5.5,"color":"#000000"},
"encoding":{"x":{"datum":128.4,"type":"quantitative","scale":{"domain":[0,384],"nice":false,"zero":false},"axis":null},"y":{"datum":-59.3,"type":"quantitative","scale":{"domain":[-51.34,33.24],"nice":false,"zero":false},"axis":null}}},
{"data":{"values":[{}]},"mark":{"type":"text","text":"30 Perts.","align":"left","baseline":"middle","fontSize":5.5,"color":"#000000"},
"encoding":{"x":{"datum":173.4,"type":"quantitative","scale":{"domain":[0,384],"nice":false,"zero":false},"axis":null},"y":{"datum":-59.8,"type":"quantitative","scale":{"domain":[-51.34,33.24],"nice":false,"zero":false},"axis":null}}},
{"data":{"values":[{}]},"mark":{"type":"text","text":"❄","align":"center","baseline":"middle","fontSize":7,"font":"DejaVu Sans","color":"#78b8f0"},
"encoding":{"x":{"datum":5.6,"type":"quantitative","scale":{"domain":[0,384],"nice":false,"zero":false},"axis":null},"y":{"datum":-60.7,"type":"quantitative","scale":{"domain":[-51.34,33.24],"nice":false,"zero":false},"axis":null}}},
{"data":{"values":[{}]},"mark":{"type":"text","text":"Risque neige","align":"left","baseline":"middle","fontSize":5.5,"color":"#000000"},
"encoding":{"x":{"datum":14.6,"type":"quantitative","scale":{"domain":[0,384],"nice":false,"zero":false},"axis":null},"y":{"datum":-60.8,"type":"quantitative","scale":{"domain":[-51.34,33.24],"nice":false,"zero":false},"axis":null}}},
{"data":{"values":[{}]},"mark":{"type":"rect","fillOpacity":0,"stroke":"#000000","strokeWidth":1},
"encoding":{"x":{"datum":-19.1,"type":"quantitative","scale":{"domain":[0,384],"nice":false,"zero":false},"axis":null},"x2":{"datum":232},"y":{"datum":-61.9,"type":"quantitative","scale":{"domain":[-51.34,33.24],"nice":false,"zero":false},"axis":null},"y2":{"datum":-66.6}}},
{"data":{"values":[{}]},"mark":{"type":"text","text":"Diagramme des ensembles GEFS sur 384h : 40,6N 22,9E","align":"left","baseline":"middle","fontSize":6.4,"fontWeight":"bold","color":"#000000"},
"encoding":{"x":{"datum":-12.4,"type":"quantitative","scale":{"domain":[0,384],"nice":false,"zero":false},"axis":null},"y":{"datum":-63.4,"type":"quantitative","scale":{"domain":[-51.34,33.24],"nice":false,"zero":false},"axis":null}}},
{"data":{"values":[{}]},"mark":{"type":"text","text":"Températures 850hPa et 500hPa (°C) , précipitations (mm)","align":"left","baseline":"middle","fontSize":5.5,"color":"#000000"},
"encoding":{"x":{"datum":-13.5,"type":"quantitative","scale":{"domain":[0,384],"nice":false,"zero":false},"axis":null},"y":{"datum":-65.7,"type":"quantitative","scale":{"domain":[-51.34,33.24],"nice":false,"zero":false},"axis":null}}},
{"data":{"values":[{}]},"mark":{"type":"text","text":"Ensemble GEFS du 05/07/2026 - 12Z","align":"left","baseline":"middle","fontSize":5.5,"color":"#000000"},
"encoding":{"x":{"datum":239.9,"type":"quantitative","scale":{"domain":[0,384],"nice":false,"zero":false},"axis":null},"y":{"datum":-62.4,"type":"quantitative","scale":{"domain":[-51.34,33.24],"nice":false,"zero":false},"axis":null}}},
{"data":{"values":[{}]},"mark":{"type":"text","text":"Copyright 2026 Meteociel.fr","align":"left","baseline":"middle","fontSize":6.3,"fontWeight":"bold","color":"#000000"},
"encoding":{"x":{"datum":239.9,"type":"quantitative","scale":{"domain":[0,384],"nice":false,"zero":false},"axis":null},"y":{"datum":-65.4,"type":"quantitative","scale":{"domain":[-51.34,33.24],"nice":false,"zero":false},"axis":null}}},
{"data":{"values":[{}]},"mark":{"type":"text","text":"(mm)","align":"left","baseline":"middle","fontSize":5.5,"color":"#000000"},
"encoding":{"x":{"datum":395.3,"type":"quantitative","scale":{"domain":[0,384],"nice":false,"zero":false},"axis":null},"y":{"datum":-53.6,"type":"quantitative","scale":{"domain":[-51.34,33.24],"nice":false,"zero":false},"axis":null}}},
{"data":{"name":"sw"},"mark":{"type":"square","size":16,"filled":true,"opacity":1},
"encoding":{"x":{"field":"m","type":"quantitative","scale":{"domain":[-31.37,26.82],"nice":false,"zero":false},"axis":null},"y":{"datum":-60.1,"type":"quantitative","scale":{"domain":[-51.34,33.24],"nice":false,"zero":false},"axis":null},
"color":{"field":"m","type":"nominal","scale":{"domain":[1,2,3,4,5,6,7,8,9,10,11,12,13,14,15,16,17,18,19,20,21,22,23,24,25,26,27,28,29,30],"range":["#f0a050","#90c860","#f0d000","#9050c0","#c06020","#5a8a10","#3090f0","#e0d0a8","#70a0c0","#e0b070","#f08020","#e05030","#c8c080","#40b040","#206070","#708090","#f080f0","#8040e0","#906040","#300080","#f0e000","#a08050","#604020","#a0a0f0","#80f040","#5030b0","#002090","#d8d0c0","#a00000","#0040d0"]},"legend":null}}},
{"data":{"name":"sw"},"mark":{"type":"text","fontSize":4.2,"baseline":"middle","align":"center","color":"#333333"},
"encoding":{"x":{"field":"m","type":"quantitative","scale":{"domain":[-31.37,26.82],"nice":false,"zero":false},"axis":null},"y":{"datum":-58.9,"type":"quantitative","scale":{"domain":[-51.34,33.24],"nice":false,"zero":false},"axis":null},"text":{"field":"m","type":"quantitative","format":"02d"}}}
]
}
